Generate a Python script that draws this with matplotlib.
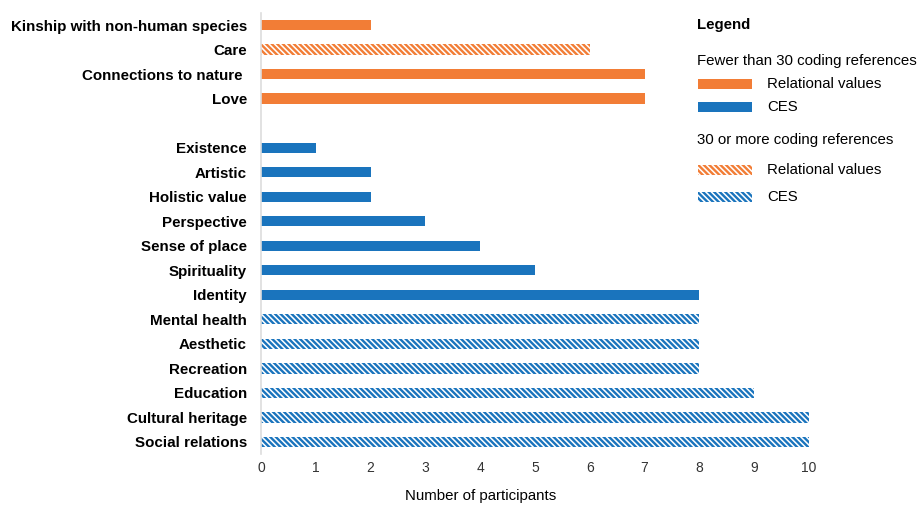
import matplotlib
matplotlib.use("Agg")
import matplotlib.pyplot as plt
from matplotlib.patches import Rectangle

plt.rcParams['font.family'] = ['Liberation Sans', 'DejaVu Sans']
plt.rcParams['hatch.linewidth'] = 1.7

categories = ["Kinship with non-human species", "Care", "Connections to nature ", "Love", "",
              "Existence", "Artistic", "Holistic value", "Perspective", "Sense of place",
              "Spirituality", "Identity", "Mental health", "Aesthetic", "Recreation",
              "Education", "Cultural heritage", "Social relations"]
values = [2, 6, 7, 7, 0, 1, 2, 2, 3, 4, 5, 8, 8, 8, 8, 9, 10, 10]
groups = ["RV", "RV", "RV", "RV", None, "CES", "CES", "CES", "CES", "CES", "CES", "CES",
          "CES", "CES", "CES", "CES", "CES", "CES"]
many_refs = [False, True, False, False, False, False, False, False, False, False, False, False,
             True, True, True, True, True, True]
x_ticks = list(range(0, 11))

ORANGE = "#F27D36"
BLUE = "#1A74BD"
HATCH = "\\" * 6

fig = plt.figure(figsize=(9.19, 5.05), dpi=100)
ax = fig.add_axes([261/919, 1-454.25/505, (809-261)/919, (454.25-12.75)/505])

for i, (cat, v, g, m) in enumerate(zip(categories, values, groups, many_refs)):
    if g is None:
        continue
    c = ORANGE if g == "RV" else BLUE
    if m:
        ax.barh(i, v, height=0.42, color="white", edgecolor=c, hatch=HATCH, linewidth=0)
    else:
        ax.barh(i, v, height=0.42, color=c, linewidth=0)

ax.set_ylim(17.5, -0.5)
ax.set_xlim(0, 10)
ax.set_yticks(range(len(categories)))
ax.set_yticklabels(categories, fontweight="bold", fontsize=10.9)
ax.set_xticks(x_ticks)
ax.set_xticklabels([str(t) for t in x_ticks], fontsize=10, color="#333333")
ax.tick_params(axis="both", length=0)
ax.tick_params(axis="y", pad=10)
ax.tick_params(axis="x", pad=5)
for s in ["top", "right", "bottom"]:
    ax.spines[s].set_visible(False)
ax.spines["left"].set_color("#DDDDDD")
ax.spines["left"].set_linewidth(1.2)

# Legend drawn manually
def fx(px):
    return px / 919
def fy(py):
    return 1 - py / 505

fig.text(fx(481), fy(496), "Number of participants", fontsize=10.8, va="center", ha="center")

fig.text(fx(697), fy(25), "Legend", fontweight="bold", fontsize=10.8, va="center", ha="left")
fig.text(fx(697), fy(61), "Fewer than 30 coding references", fontsize=10.8, va="center", ha="left")
fig.text(fx(697), fy(140), "30 or more coding references", fontsize=10.8, va="center", ha="left")
leg_items = [(84, ORANGE, False, "Relational values"), (107, BLUE, False, "CES"),
             (170, ORANGE, True, "Relational values"), (197, BLUE, True, "CES")]
for py, c, h, lab in leg_items:
    if h:
        r = Rectangle((fx(698), fy(py + 5)), fx(54), 10/505, transform=fig.transFigure,
                      facecolor="white", edgecolor=c, hatch=HATCH, linewidth=0)
    else:
        r = Rectangle((fx(698), fy(py + 5)), fx(54), 10/505, transform=fig.transFigure,
                      facecolor=c, linewidth=0)
    fig.patches.append(r)
    fig.text(fx(767), fy(py), lab, fontsize=10.8, va="center", ha="left")

fig.savefig("out.png", dpi=100)
